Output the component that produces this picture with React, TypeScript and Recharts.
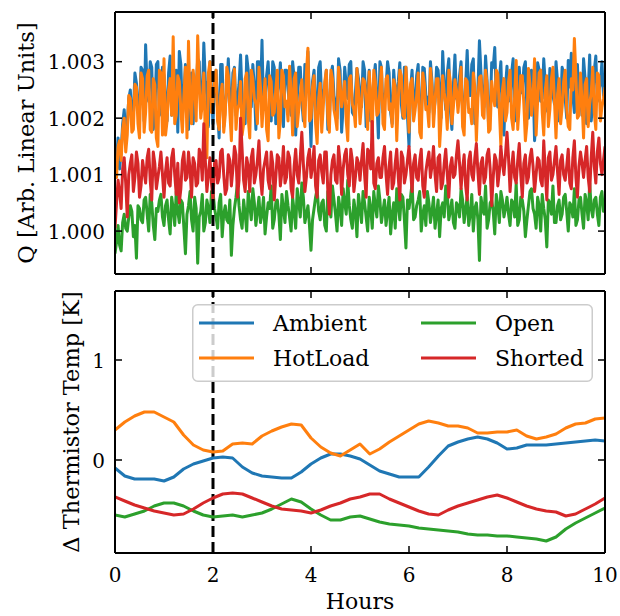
import { LineChart, Line, XAxis, YAxis, ReferenceLine, Legend, Label } from "recharts";

// ---- top panel: Q sampled every 1/32 hour, stored as (Q - 1) in units of 1e-5
const SAMPLE_STEP_H = 0.03125;

const ambientQ = [
  100, 125, 165, 110, 140, 190, 215, 175, 190, 235, 250, 200, 205, 280, 262, 210, 215, 290, 285, 195, 330, 250, 230, 300, 290, 180, 210, 295, 300, 205, 240, 290,
  275, 230, 195, 280, 310, 205, 225, 260, 285, 175, 318, 295, 205, 240, 295, 215, 180, 270, 280, 190, 230, 250, 305, 300, 215, 225, 333, 265, 240, 185, 300, 245,
  190, 270, 285, 215, 165, 295, 295, 185, 220, 250, 305, 230, 200, 280, 290, 205, 235, 260, 312, 240, 215, 190, 310, 285, 230, 220, 295, 255, 180, 300, 300, 235,
  338, 215, 220, 275, 300, 240, 195, 300, 290, 190, 240, 260, 298, 225, 185, 285, 285, 250, 225, 205, 300, 270, 170, 235, 290, 290, 230, 195, 295, 255, 318, 230,
  150, 265, 285, 205, 210, 290, 300, 230, 240, 255, 285, 180, 195, 275, 292, 240, 225, 200, 305, 285, 175, 220, 290, 260, 235, 295, 300, 210, 205, 245, 288, 270,
  240, 220, 300, 285, 185, 250, 285, 195, 225, 270, 295, 235, 165, 300, 290, 210, 230, 255, 300, 280, 210, 190, 285, 245, 240, 265, 298, 225, 200, 290, 290, 205,
  150, 250, 285, 220, 225, 275, 295, 195, 190, 290, 288, 240, 235, 210, 300, 265, 205, 230, 290, 285, 245, 200, 318, 255, 215, 280, 305, 215, 180, 260, 312, 235,
  230, 275, 300, 210, 200, 260, 320, 240, 240, 295, 305, 190, 195, 250, 337, 280, 230, 220, 310, 265, 185, 205, 298, 290, 325, 235, 220, 270, 300, 200, 170, 255,
  292, 230, 235, 280, 305, 195, 210, 260, 290, 245, 245, 290, 300, 215, 200, 250, 285, 270, 160, 200, 298, 285, 230, 235, 305, 260, 215, 210, 288, 275, 240, 225,
  300, 265, 195, 215, 290, 280, 235, 200, 302, 255, 315, 240, 210, 290, 295, 225, 240, 205, 305, 270, 190, 245, 312, 195, 230, 285, 310, 230, 250, 260, 300, 240,
  270,
];

const hotLoadQ = [
  105, 95, 150, 160, 125, 180, 200, 140, 170, 240, 235, 175, 180, 260, 255, 190, 165, 280, 270, 175, 210, 275, 285, 180, 175, 270, 260, 165, 150, 285, 280, 170,
  305, 170, 195, 250, 270, 205, 344, 190, 205, 275, 265, 215, 175, 240, 290, 165, 336, 230, 190, 285, 260, 195, 346, 260, 200, 225, 280, 165, 130, 280, 300, 210,
  230, 265, 285, 195, 180, 240, 260, 175, 205, 290, 275, 210, 160, 255, 287, 180, 215, 225, 265, 170, 190, 270, 280, 200, 165, 285, 270, 235, 225, 190, 290, 255,
  185, 230, 270, 180, 160, 275, 265, 205, 210, 250, 285, 165, 195, 285, 275, 220, 230, 195, 292, 245, 170, 270, 280, 185, 215, 240, 268, 210, 185, 280, 324, 195,
  200, 255, 275, 190, 155, 235, 262, 175, 220, 265, 285, 200, 175, 285, 270, 215, 200, 180, 290, 260, 220, 240, 265, 195, 160, 270, 275, 225, 215, 185, 288, 250,
  190, 225, 270, 265, 230, 180, 282, 240, 170, 285, 265, 205, 210, 250, 290, 190, 180, 270, 275, 215, 225, 185, 268, 255, 160, 235, 285, 275, 205, 200, 290, 245,
  175, 260, 270, 195, 215, 240, 280, 175, 165, 280, 262, 215, 220, 185, 288, 255, 185, 230, 270, 270, 150, 200, 275, 245, 225, 180, 285, 265, 190, 220, 268, 250,
  210, 245, 290, 185, 170, 270, 265, 210, 215, 190, 280, 255, 160, 235, 272, 275, 205, 200, 285, 260, 175, 180, 265, 240, 222, 285, 278, 215, 150, 250, 270, 195,
  210, 265, 285, 200, 180, 240, 302, 180, 225, 275, 275, 225, 160, 190, 288, 260, 205, 235, 305, 170, 230, 280, 285, 210, 170, 250, 275, 185, 215, 270, 290, 230,
  165, 240, 270, 190, 220, 265, 285, 215, 185, 180, 270, 250, 341, 275, 200, 205, 280, 230, 165, 260, 270, 185, 225, 245, 290, 210, 180, 280, 275, 195, 220, 235,
  255,
];

const openQ = [
  -40, -20, 10, -25, -35, 15, 30, 5, 0, 25, 45, 35, -10, 10, -48, 45, 40, 20, 15, 55, 60, 30, 0, 65, 50, 10, -15, 40, 35, 55, 65, 25,
  10, 45, 55, 20, -5, 60, 40, 10, 70, 35, 15, 55, 50, 5, -40, 30, 45, 70, 20, 0, 60, 40, -57, 25, 35, 65, 0, 15, 55, 40, 15, 70,
  70, 40, 25, 5, 50, 65, -10, 30, 45, 20, 15, 55, -43, 10, 40, 60, 85, 45, 20, 5, 55, 30, 0, 70, 45, 20, 75, 50, 10, 35, 60, 15,
  30, 60, -5, 25, 50, 40, 80, 5, 20, 50, 55, 30, -15, 65, 40, 15, 70, 45, 25, 0, 60, 35, 5, 75, 50, 25, 85, 60, 15, 30, 45, 10,
  -34, 20, 40, 60, 75, 35, 20, 50, 55, 10, 0, 70, 45, 25, 80, 55, 30, 0, 60, 40, 10, 75, 50, 30, 90, 45, 20, 5, 55, 35, -10, 65,
  40, 15, 70, 50, 25, 0, 60, 40, 5, 70, 45, 25, 80, 55, 15, 35, 55, 10, 35, 60, -5, 30, 50, 5, 75, 45, 20, 65, 60, 20, -30, 55,
  40, 60, 85, 20, 25, 45, 55, 70, 0, 30, 45, 10, 70, 50, 15, 35, 60, 5, 30, 55, -10, 40, 50, 25, 80, 65, 20, 35, 55, 15, 5, 50,
  45, 25, 75, 55, 15, 40, 60, 10, 30, 65, 0, 40, 50, 20, -52, 60, 40, 30, 80, 5, 20, 50, 55, 35, -5, 65, 45, 15, 70, 55, 25, 40,
  60, 30, 10, 55, 50, 25, 85, 10, 20, 60, 55, 35, -10, 20, 45, 70, 75, 40, 30, 5, 60, 45, 0, 65, 40, 20, -28, 55, 50, 30, 80, 15,
  15, 45, 55, 20, 30, 60, 65, 35, 0, 50, 45, 25, 75, 10, 20, 55, 60, 30, 5, 65, 50, 20, 85, 40, 25, 55, 60, 30, 10, 60, 70, 35,
  55,
];

const shortedQ = [
  5, 50, 90, 70, 40, 110, 130, 85, 25, 100, 120, 135, 70, 95, 140, 120, 60, 80, 125, 105, 85, 130, 145, 90, 55, 140, 120, 75, 95, 115, 140, 100,
  60, 105, 130, 85, 80, 130, 145, 100, 65, 120, 50, 75, 125, 140, 90, 95, 140, 110, 60, 130, 120, 80, 85, 145, 135, 90, 190, 125, 70, 100, 130, 85,
  55, 120, 125, 85, 95, 140, 145, 100, 65, 75, 135, 125, 80, 110, 150, 135, 60, 90, 200, 145, 90, 70, 130, 115, 70, 130, 145, 85, 100, 125, 160, 95,
  65, 110, 125, 140, 90, 75, 140, 120, 55, 95, 135, 130, 80, 105, 150, 85, 95, 140, 130, 75, 60, 115, 145, 100, 85, 130, 175, 120, 70, 95, 130, 145,
  95, 115, 150, 80, 60, 125, 135, 105, 85, 140, 140, 70, 30, 100, 125, 135, 90, 85, 150, 120, 65, 110, 135, 145, 100, 80, 145, 125, 70, 95, 130, 120,
  90, 125, 155, 100, 60, 145, 140, 110, 194, 85, 75, 120, 130, 95, 95, 130, 150, 100, 65, 115, 140, 75, 85, 120, 145, 95, 55, 140, 130, 85, 100, 125,
  150, 110, 70, 120, 135, 95, 90, 125, 145, 80, 60, 105, 125, 140, 95, 115, 150, 100, 70, 130, 135, 75, 85, 120, 145, 100, 60, 115, 130, 95, 100, 135,
  160, 120, 75, 110, 135, 80, 55, 125, 140, 100, 90, 130, 155, 105, 65, 120, 130, 85, 95, 135, 145, 110, 45, 95, 135, 125, 80, 105, 150, 120, 100, 135,
  175, 130, 70, 110, 140, 95, 85, 125, 155, 100, 60, 120, 135, 85, 95, 130, 145, 115, 70, 100, 130, 125, 90, 80, 160, 105, 55, 130, 140, 90, 100, 125,
  150, 105, 65, 125, 135, 100, 90, 115, 145, 85, 75, 130, 160, 95, 60, 115, 140, 120, 95, 125, 150, 95, 70, 130, 175, 115, 85, 140, 165, 120, 100, 125,
  150,
];

// ---- bottom panel: thermistor temperature change [K]
const tempHours = [
  0, 0.2, 0.4, 0.6, 0.8, 1, 1.2, 1.4, 1.6, 1.8, 2, 2.2, 2.4, 2.6, 2.8, 3, 3.2,
  3.4, 3.6, 3.8, 4, 4.2, 4.4, 4.6, 4.8, 5, 5.2, 5.4, 5.6, 5.8, 6, 6.2, 6.4, 6.6,
  6.8, 7, 7.2, 7.4, 7.6, 7.8, 8, 8.2, 8.4, 8.6, 8.8, 9, 9.2, 9.4, 9.6, 9.8, 10,
];
const ambientTemp = [
  -0.08, -0.16, -0.19, -0.19, -0.19, -0.21, -0.17, -0.09, -0.04, -0.01, 0.02,
  0.03, 0.02, -0.07, -0.13, -0.16, -0.17, -0.18, -0.18, -0.12, -0.04,
  0.02, 0.06, 0.06, 0.04, 0.01, -0.05, -0.11, -0.14, -0.17, -0.17,
  -0.17, -0.07, 0.04, 0.14, 0.18, 0.21, 0.23, 0.21, 0.17, 0.11,
  0.12, 0.15, 0.15, 0.15, 0.16, 0.17, 0.18, 0.19, 0.2, 0.19,
];
const hotLoadTemp = [
  0.3, 0.38, 0.44, 0.48, 0.48, 0.43, 0.38, 0.25, 0.15, 0.1, 0.08,
  0.09, 0.16, 0.17, 0.16, 0.24, 0.29, 0.33, 0.36, 0.35, 0.22,
  0.13, 0.07, 0.04, 0.1, 0.16, 0.06, 0.11, 0.18, 0.24, 0.3,
  0.36, 0.39, 0.37, 0.34, 0.34, 0.32, 0.27, 0.27, 0.28, 0.28,
  0.3, 0.24, 0.21, 0.23, 0.26, 0.32, 0.36, 0.37, 0.41, 0.42,
];
const openTemp = [
  -0.55, -0.57, -0.54, -0.51, -0.46, -0.43, -0.43, -0.46, -0.51, -0.55, -0.57,
  -0.56, -0.55, -0.57, -0.55, -0.53, -0.49, -0.44, -0.39, -0.42, -0.49,
  -0.55, -0.6, -0.6, -0.57, -0.56, -0.59, -0.62, -0.64, -0.65, -0.66,
  -0.68, -0.69, -0.7, -0.71, -0.72, -0.74, -0.75, -0.75, -0.76, -0.76,
  -0.77, -0.78, -0.79, -0.81, -0.77, -0.69, -0.63, -0.58, -0.53, -0.48,
];
const shortedTemp = [
  -0.37, -0.41, -0.45, -0.48, -0.51, -0.53, -0.55, -0.54, -0.49, -0.43, -0.38,
  -0.34, -0.33, -0.34, -0.38, -0.42, -0.46, -0.49, -0.5, -0.51, -0.53,
  -0.5, -0.46, -0.43, -0.39, -0.37, -0.34, -0.34, -0.39, -0.43, -0.47,
  -0.51, -0.54, -0.55, -0.5, -0.46, -0.43, -0.4, -0.37, -0.35, -0.38,
  -0.42, -0.46, -0.49, -0.51, -0.52, -0.56, -0.54, -0.49, -0.44, -0.38,
];

const hourTicks = [0, 2, 4, 6, 8, 10];
const qTicks = [1.0, 1.001, 1.002, 1.003];
const tempTicks = [0, 1];
const seriesNames = ["Ambient", "HotLoad", "Open", "Shorted"];
const seriesKeys = ["ambient", "hotLoad", "open", "shorted"];
const seriesColors = ["#1f77b4", "#ff7f0e", "#2ca02c", "#d62728"];
const markerHour = 2;

const qRows = ambientQ.map((v, i) => ({
  h: i * SAMPLE_STEP_H,
  ambient: 1 + v * 1e-5,
  hotLoad: 1 + hotLoadQ[i] * 1e-5,
  open: 1 + openQ[i] * 1e-5,
  shorted: 1 + shortedQ[i] * 1e-5,
}));

const tempRows = tempHours.map((h, i) => ({
  h,
  ambient: ambientTemp[i],
  hotLoad: hotLoadTemp[i],
  open: openTemp[i],
  shorted: shortedTemp[i],
}));

const FONT = { fontFamily: "DejaVu Serif" };
const TICK_LEN = 7;
const FRAME = { stroke: "#000", strokeWidth: 2 };

// ticks point into the plot on every side
const leftTick = (fmt: (v: number) => string) => (p: any) => (
  <g>
    <line x1={p.x} y1={p.y} x2={p.x + TICK_LEN} y2={p.y} stroke="#000" strokeWidth={1.5} />
    <text x={p.x - 10} y={p.y + 7.5} textAnchor="end" style={FONT} fontSize={20} fill="#000">
      {fmt(p.payload.value)}
    </text>
  </g>
);
const rightTick = (p: any) => (
  <line x1={p.x - TICK_LEN} y1={p.y} x2={p.x} y2={p.y} stroke="#000" strokeWidth={1.5} />
);
const bottomTick = (showLabel: boolean) => (p: any) => (
  <g>
    <line x1={p.x} y1={p.y} x2={p.x} y2={p.y - TICK_LEN} stroke="#000" strokeWidth={1.5} />
    {showLabel && (
      <text x={p.x} y={p.y + 29} textAnchor="middle" style={FONT} fontSize={20} fill="#000">
        {p.payload.value}
      </text>
    )}
  </g>
);
const topTick = (p: any) => (
  <line x1={p.x} y1={p.y} x2={p.x} y2={p.y + TICK_LEN} stroke="#000" strokeWidth={1.5} />
);

const yTitle = (text: string, baselineX: number) => (p: any) => {
  const cy = p.viewBox.y + p.viewBox.height / 2;
  return (
    <text
      x={baselineX}
      y={cy}
      transform={`rotate(-90 ${baselineX} ${cy})`}
      textAnchor="middle"
      style={FONT}
      fontSize={22.5}
      fill="#000"
    >
      {text}
    </text>
  );
};

const LEG_W = 401;
const LEG_H = 78;
const renderLegend = (props: any) => {
  const items = props.payload ?? [];
  return (
    <svg width={LEG_W} height={LEG_H} style={{ display: "block" }}>
      <rect
        x={0.75}
        y={0.75}
        width={LEG_W - 1.5}
        height={LEG_H - 1.5}
        rx={5}
        fill="#fff"
        fillOpacity={0.8}
        stroke="#cccccc"
        strokeWidth={1.5}
      />
      {items.map((it: any, i: number) => {
        const lx = i < 2 ? 7 : 229;
        const cy = i % 2 === 0 ? 19 : 54;
        return (
          <g key={it.value}>
            <line x1={lx} x2={lx + 55} y1={cy} y2={cy} stroke={it.color} strokeWidth={3} />
            <text x={lx + 74} y={cy + 8} style={FONT} fontSize={22} fill="#000">
              {it.value}
            </text>
          </g>
        );
      })}
    </svg>
  );
};

const axesFor = (
  domain: [number, number],
  yTicks: number[],
  fmt: (v: number) => string,
  title: string,
  titleX: number,
  showX: boolean
) => [
  <XAxis
    key="xb"
    xAxisId="b"
    dataKey="h"
    type="number"
    domain={[0, 10]}
    ticks={hourTicks}
    interval={0}
    height={1}
    tickSize={0}
    tickMargin={0}
    tickLine={false}
    axisLine={FRAME}
    tick={bottomTick(showX)}
    allowDataOverflow
  >
    {showX && (
      <Label
        content={(p: any) => (
          <text
            x={p.viewBox.x + p.viewBox.width / 2}
            y={p.viewBox.y + 56}
            textAnchor="middle"
            style={FONT}
            fontSize={22}
            fill="#000"
          >
            Hours
          </text>
        )}
      />
    )}
  </XAxis>,
  <XAxis
    key="xt"
    xAxisId="t"
    orientation="top"
    dataKey="h"
    type="number"
    domain={[0, 10]}
    ticks={hourTicks}
    interval={0}
    height={1}
    tickSize={0}
    tickMargin={0}
    tickLine={false}
    axisLine={FRAME}
    tick={topTick}
    allowDataOverflow
  />,
  <YAxis
    key="yl"
    yAxisId="l"
    type="number"
    domain={domain}
    ticks={yTicks}
    interval={0}
    width={115}
    tickSize={0}
    tickMargin={0}
    tickLine={false}
    axisLine={FRAME}
    tick={leftTick(fmt)}
    allowDataOverflow
  >
    <Label content={yTitle(title, titleX)} />
  </YAxis>,
  <YAxis
    key="yr"
    yAxisId="r"
    orientation="right"
    type="number"
    domain={domain}
    ticks={yTicks}
    interval={0}
    width={1}
    tickSize={0}
    tickMargin={0}
    tickLine={false}
    axisLine={FRAME}
    tick={rightTick}
    allowDataOverflow
  />,
];

const App = () => {
  return (
    <div style={{ position: "absolute", left: 0, top: 0, width: 620, height: 616, background: "#fff" }}>
      <div style={{ position: "absolute", left: 0, top: 0 }}>
        <LineChart width={620} height={290} data={qRows} margin={{ top: 11, right: 14, bottom: 15, left: 0 }}>
          {axesFor([0.99924, 1.00388], qTicks, (v) => v.toFixed(3), "Q [Arb. Linear Units]", 34, false)}
          {seriesKeys.map((k, i) => (
            <Line
              key={k}
              xAxisId="b"
              yAxisId="l"
              dataKey={k}
              name={seriesNames[i]}
              stroke={seriesColors[i]}
              strokeWidth={3}
              strokeLinejoin="round"
              dot={false}
              isAnimationActive={false}
            />
          ))}
          <ReferenceLine xAxisId="b" yAxisId="l" x={markerHour} stroke="#000" strokeWidth={3} strokeDasharray="11 5" />
        </LineChart>
      </div>
      <div style={{ position: "absolute", left: 0, top: 280 }}>
        <LineChart width={620} height={336} data={tempRows} margin={{ top: 10, right: 14, bottom: 62, left: 0 }}>
          {axesFor([-0.93, 1.69], tempTicks, (v) => String(v), "\u0394 Thermistor Temp [K]", 79, true)}
          <ReferenceLine xAxisId="b" yAxisId="l" x={markerHour} stroke="#000" strokeWidth={3} strokeDasharray="11 5" />
          {seriesKeys.map((k, i) => (
            <Line
              key={k}
              xAxisId="b"
              yAxisId="l"
              dataKey={k}
              name={seriesNames[i]}
              stroke={seriesColors[i]}
              strokeWidth={3}
              strokeLinejoin="round"
              dot={false}
              isAnimationActive={false}
            />
          ))}
          <Legend
            layout="horizontal"
            align="center"
            verticalAlign="middle"
            content={renderLegend}
            wrapperStyle={{ left: 192, top: 24, width: LEG_W, height: LEG_H }}
          />
        </LineChart>
      </div>
    </div>
  );
};

export default App;
